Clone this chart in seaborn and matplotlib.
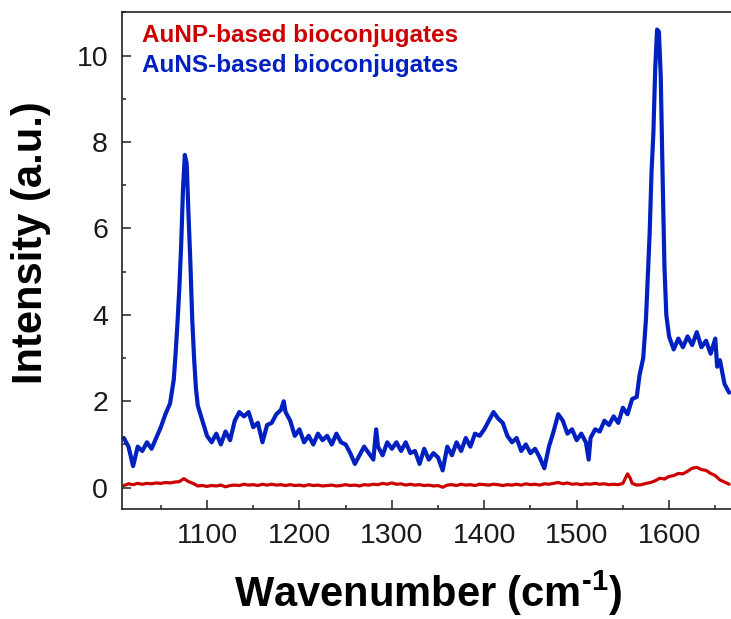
import numpy as np
import pandas as pd
import matplotlib
matplotlib.use("Agg")
import matplotlib.pyplot as plt
import seaborn as sns
from matplotlib.ticker import MultipleLocator

# ---------------- data ----------------
aunp_label = "AuNP-based bioconjugates"
auns_label = "AuNS-based bioconjugates"

auns_x = [1010, 1015, 1020, 1025, 1030, 1035, 1040, 1045, 1050, 1055, 1060, 1064, 1066, 1068,
          1070, 1072, 1074, 1076, 1078, 1080, 1082, 1084, 1086, 1088, 1090, 1095, 1100, 1105,
          1110, 1115, 1120, 1125, 1130, 1135, 1140, 1145, 1150, 1155, 1160, 1165, 1170, 1175,
          1180, 1183, 1185, 1190, 1195, 1200, 1205, 1210, 1215, 1220, 1225, 1230, 1235, 1240,
          1245, 1250, 1255, 1260, 1265, 1270, 1275, 1280, 1283, 1285, 1290, 1295, 1300, 1305,
          1310, 1315, 1320, 1325, 1330, 1335, 1340, 1345, 1350, 1355, 1360, 1365, 1370, 1375,
          1380, 1385, 1390, 1395, 1400, 1405, 1410, 1415, 1420, 1425, 1430, 1435, 1440, 1445,
          1450, 1455, 1460, 1465, 1470, 1475, 1480, 1485, 1490, 1495, 1500, 1505, 1510, 1513,
          1515, 1520, 1525, 1530, 1535, 1540, 1545, 1550, 1555, 1560, 1565, 1568, 1572, 1575,
          1577, 1579, 1581, 1583, 1585, 1587, 1589, 1591, 1593, 1595, 1597, 1600, 1605, 1610,
          1615, 1620, 1625, 1630, 1635, 1640, 1645, 1650, 1652, 1655, 1660, 1665]
auns_y = [1.15, 0.95, 0.50, 0.95, 0.85, 1.05, 0.90, 1.15, 1.40, 1.70, 1.95, 2.5, 3.1, 3.8,
          4.6, 5.6, 6.9, 7.7, 7.5, 6.3, 5.2, 3.9, 3.0, 2.3, 1.9, 1.55, 1.20, 1.05,
          1.25, 1.00, 1.30, 1.10, 1.55, 1.75, 1.65, 1.75, 1.40, 1.50, 1.05, 1.45, 1.50, 1.70,
          1.80, 2.00, 1.75, 1.55, 1.20, 1.35, 1.05, 1.20, 1.00, 1.25, 1.10, 1.20, 1.00, 1.25,
          1.05, 1.00, 0.80, 0.55, 0.75, 0.95, 0.80, 0.65, 1.35, 0.95, 0.75, 1.05, 0.90, 1.05,
          0.85, 1.05, 0.80, 0.85, 0.55, 0.90, 0.65, 0.80, 0.70, 0.40, 0.95, 0.75, 1.05, 0.85,
          1.15, 0.95, 1.25, 1.20, 1.35, 1.55, 1.75, 1.60, 1.50, 1.20, 1.05, 1.15, 0.85, 1.00,
          0.80, 0.90, 0.70, 0.45, 0.95, 1.30, 1.70, 1.55, 1.25, 1.35, 1.10, 1.25, 1.05, 0.65,
          1.15, 1.35, 1.30, 1.55, 1.45, 1.65, 1.50, 1.85, 1.70, 2.05, 2.10, 2.6, 3.0, 3.9,
          4.9, 5.9, 7.3, 8.2, 9.7, 10.6, 10.55, 9.5, 7.2, 5.1, 4.0, 3.5, 3.20, 3.45,
          3.25, 3.50, 3.30, 3.60, 3.25, 3.40, 3.10, 3.45, 2.80, 2.95, 2.40, 2.20]

aunp_x = [1010, 1015, 1020, 1025, 1030, 1035, 1040, 1045, 1050, 1055, 1060, 1065, 1070, 1075,
          1080, 1085, 1090, 1095, 1100, 1105, 1110, 1115, 1120, 1125, 1130, 1135, 1140, 1145,
          1150, 1155, 1160, 1165, 1170, 1175, 1180, 1185, 1190, 1195, 1200, 1205, 1210, 1215,
          1220, 1225, 1230, 1235, 1240, 1245, 1250, 1255, 1260, 1265, 1270, 1275, 1280, 1285,
          1290, 1295, 1300, 1305, 1310, 1315, 1320, 1325, 1330, 1335, 1340, 1345, 1350, 1355,
          1360, 1365, 1370, 1375, 1380, 1385, 1390, 1395, 1400, 1405, 1410, 1415, 1420, 1425,
          1430, 1435, 1440, 1445, 1450, 1455, 1460, 1465, 1470, 1475, 1480, 1485, 1490, 1495,
          1500, 1505, 1510, 1515, 1520, 1525, 1530, 1535, 1540, 1545, 1550, 1555, 1558, 1560,
          1565, 1570, 1575, 1580, 1585, 1590, 1595, 1600, 1605, 1610, 1615, 1620, 1625, 1630,
          1635, 1640, 1645, 1650, 1655, 1660, 1665]
aunp_y = [0.05, 0.09, 0.07, 0.10, 0.08, 0.10, 0.09, 0.11, 0.10, 0.12, 0.11, 0.13, 0.14, 0.21,
          0.14, 0.10, 0.04, 0.05, 0.03, 0.05, 0.04, 0.06, 0.02, 0.05, 0.06, 0.05, 0.08, 0.06,
          0.07, 0.05, 0.08, 0.06, 0.08, 0.06, 0.07, 0.05, 0.07, 0.05, 0.06, 0.04, 0.07, 0.05,
          0.06, 0.04, 0.05, 0.06, 0.04, 0.05, 0.07, 0.05, 0.06, 0.04, 0.07, 0.06, 0.08, 0.07,
          0.10, 0.08, 0.11, 0.08, 0.09, 0.06, 0.08, 0.06, 0.07, 0.05, 0.06, 0.04, 0.05, 0.01,
          0.06, 0.07, 0.05, 0.08, 0.06, 0.07, 0.05, 0.08, 0.07, 0.06, 0.08, 0.07, 0.05, 0.07,
          0.06, 0.08, 0.06, 0.09, 0.07, 0.08, 0.06, 0.09, 0.08, 0.10, 0.12, 0.09, 0.11, 0.08,
          0.09, 0.07, 0.09, 0.08, 0.10, 0.08, 0.09, 0.07, 0.08, 0.07, 0.10, 0.32, 0.22, 0.10,
          0.06, 0.07, 0.10, 0.12, 0.16, 0.22, 0.20, 0.26, 0.28, 0.33, 0.32, 0.38, 0.45, 0.47,
          0.42, 0.40, 0.33, 0.28, 0.18, 0.13, 0.08]

x_ticks = [1100, 1200, 1300, 1400, 1500, 1600]
y_ticks = [0, 2, 4, 6, 8, 10]
x_label = "Wavenumber (cm$^{\\mathbf{\u2010}\\mathbf{1}}$)"
y_label = "Intensity (a.u.)"

# ---------------- style ----------------
sns.set_style("ticks")
plt.rcParams["font.family"] = ["Liberation Sans", "DejaVu Sans"]
plt.rcParams["mathtext.fontset"] = "custom"
plt.rcParams["mathtext.rm"] = "Liberation Sans"
plt.rcParams["mathtext.bf"] = "Liberation Sans:bold"

RED = "#CC0000"
BLUE = "#0020C0"

fig = plt.figure(figsize=(7.31, 6.19), dpi=100)
W, H = 731, 619
ax = fig.add_axes([122 / W, (H - 509.3) / H, (W - 122) / W, 497 / H])

df_np = pd.DataFrame({"x": aunp_x, "y": aunp_y})
df_ns = pd.DataFrame({"x": auns_x, "y": auns_y})
sns.lineplot(data=df_np, x="x", y="y", color=RED, lw=2.3, sort=False,
             estimator=None, ax=ax)
sns.lineplot(data=df_ns, x="x", y="y", color=BLUE, lw=3.0, sort=False,
             estimator=None, ax=ax)

ax.set_xlim(1008, 1667)
ax.set_ylim(-0.5, 11)
ax.set_xticks(x_ticks)
ax.set_yticks(y_ticks)
ax.xaxis.set_minor_locator(MultipleLocator(50))
ax.yaxis.set_minor_locator(MultipleLocator(1))

ax.tick_params(which="both", direction="in", color="#222222", width=1.1,
               top=False, right=False)
ax.tick_params(which="major", length=6.3, pad=10, labelsize=20.5,
               labelcolor="#1a1a1a")
ax.tick_params(which="minor", length=3.1)

for side in ["left", "bottom", "top"]:
    ax.spines[side].set_linewidth(1.2)
    ax.spines[side].set_color("#222222")
ax.spines["right"].set_visible(False)

ax.set_xlabel(x_label, fontsize=30, fontweight="bold", va="baseline", color="black")
ax.xaxis.set_label_coords(0.503, -0.1966)
ax.set_ylabel(y_label, fontsize=30, fontweight="bold", va="baseline", color="black")
ax.yaxis.set_label_coords(-0.132, 0.536)

ax.text(0.0323, 0.9408, aunp_label, transform=ax.transAxes, color=RED,
        fontsize=17.5, fontweight="bold", va="baseline", ha="left")
ax.text(0.0323, 0.879, auns_label, transform=ax.transAxes, color=BLUE,
        fontsize=17.5, fontweight="bold", va="baseline", ha="left")

fig.savefig("out.png", dpi=100)
